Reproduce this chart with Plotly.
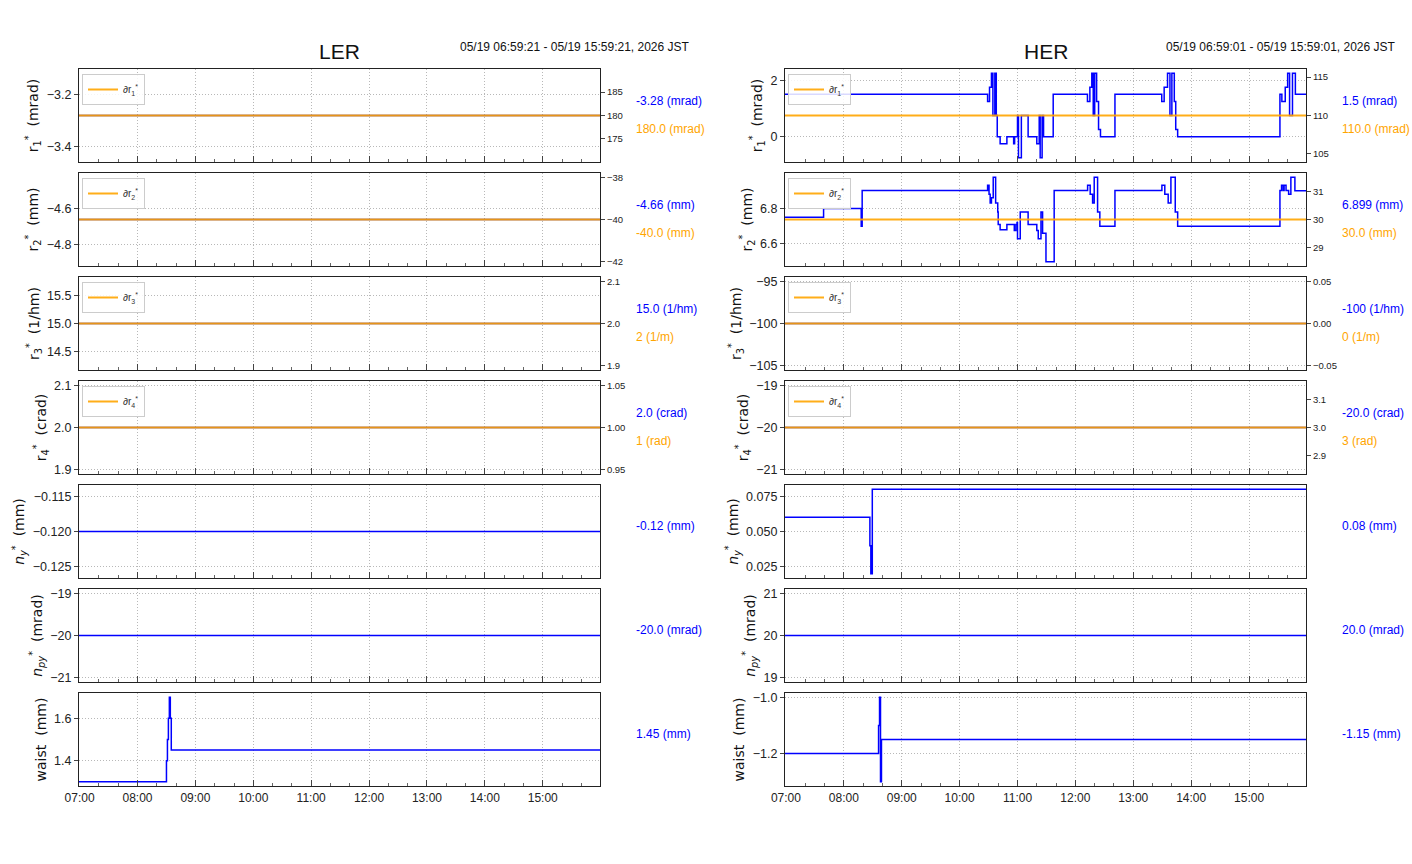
import plotly.graph_objects as go

W, H = 1412, 864
FONT_N = "Liberation Sans, Arial, sans-serif"
FONT_D = "DejaVu Sans, sans-serif"
BLUE = "#0000ff"
ORANGE = "#ffa500"
DAY = "2026-05-19 "

# ---------------- data ----------------
ler_start, ler_end = "06:59:21", "15:59:21"
her_start, her_end = "06:59:01", "15:59:01"

# LER: constant knob values (blue, left axis) and their deltas (orange, right axis)
ler_r = [-3.28, -4.66, 15.0, 2.0]
ler_dr = [180.0, -40.0, 2, 1]
ler_ny = -0.12
ler_npy = -20.0
ler_waist_t = ["06:59:21", "08:30", "08:31", "08:32", "08:33", "08:34", "08:35", "15:59:21"]
ler_waist_v = [1.30, 1.40, 1.50, 1.60, 1.70, 1.60, 1.45, 1.45]

# HER
her_r1_t = ["06:59:01", "10:29", "10:31", "10:33", "10:34:30", "10:36:30", "10:38", "10:39",
            "10:42", "10:49", "10:56", "10:57", "11:00", "11:01", "11:04", "11:11", "11:20",
            "11:22:30", "11:23:30", "11:25:30", "11:27", "11:37",
            "12:12:30", "12:15", "12:17", "12:18:30", "12:20", "12:22", "12:24", "12:26", "12:41",
            "13:29:30", "13:32", "13:35:30", "13:38", "13:40", "13:42:30", "13:44", "13:46",
            "15:32", "15:34", "15:37:30", "15:40", "15:42", "15:45", "15:48", "15:59:01"]
her_r1_v = [1.5, 1.25, 1.75, 2.25, 0.75, 2.25, 0.75, 0.0,
            -0.25, 0.0, -0.25, 0.0, 0.75, -0.75, 0.75, 0.0, -0.25,
            0.75, -0.75, 0.75, 0.0, 1.5,
            1.25, 1.75, 2.25, 0.75, 2.25, 1.25, 0.25, 0.0, 1.5,
            1.25, 1.75, 2.25, 0.75, 2.25, 1.25, 0.25, 0.0,
            1.5, 1.25, 1.75, 2.25, 0.75, 2.25, 1.5, 1.5]
her_dr1 = 110.0

her_r2_t = ["06:59:01", "07:39", "08:18", "08:19", "10:29", "10:30:30", "10:31:40", "10:33",
            "10:34:50", "10:37:20", "10:39:30", "10:40", "10:42", "10:49", "10:56:40", "10:58:20",
            "10:59:30", "11:00", "11:02:50", "11:11", "11:20", "11:21:30", "11:23:10", "11:24:20",
            "11:26", "11:29:30", "11:38",
            "12:12:40", "12:15:20", "12:17:50", "12:19:30", "12:23", "12:25:20", "12:41",
            "13:29:40", "13:32:40", "13:36:10", "13:39", "13:43:30", "13:46",
            "15:32", "15:33:40", "15:35:20", "15:36:20", "15:38:20", "15:41", "15:43:20",
            "15:47:30", "15:59:01"]
her_r2_v = [6.75, 6.80, 6.70, 6.90, 6.93, 6.88, 6.83, 6.86,
            6.975, 6.83, 6.78, 6.71, 6.68, 6.71, 6.675, 6.71,
            6.72, 6.63, 6.78, 6.71, 6.675, 6.63, 6.63, 6.78,
            6.66, 6.50, 6.90,
            6.93, 6.88, 6.83, 6.975, 6.78, 6.70, 6.90,
            6.93, 6.88, 6.83, 6.975, 6.78, 6.70,
            6.90, 6.93, 6.90, 6.93, 6.90, 6.88, 6.975,
            6.899, 6.899]
her_dr2 = 30.0

her_r3, her_dr3 = -100.0, 0
her_r4, her_dr4 = -20.0, 3
her_ny_t = ["06:59:01", "08:27", "08:28", "08:29:30", "15:59:01"]
her_ny_v = [0.0605, 0.040, 0.020, 0.0805, 0.0805]
her_npy = 20.0
her_waist_t = ["06:59:01", "08:36", "08:37", "08:38", "08:39", "15:59:01"]
her_waist_v = [-1.2, -1.1, -1.0, -1.3, -1.15, -1.15]

titles = ["LER", "HER"]
date_texts = ["05/19 06:59:21 - 05/19 15:59:21, 2026 JST",
              "05/19 06:59:01 - 05/19 15:59:01, 2026 JST"]
ytitles = ["r<sub>1</sub><sup>*</sup>  (mrad)", "r<sub>2</sub><sup>*</sup>  (mm)",
           "r<sub>3</sub><sup>*</sup>  (1/hm)", "r<sub>4</sub><sup>*</sup>  (crad)",
           "<i>n</i><sub><i>y</i></sub><sup>*</sup>  (mm)",
           "<i>n</i><sub><i>py</i></sub><sup>*</sup>  (mrad)", "waist  (mm)"]
legend_names = ["∂r<sub>1</sub><sup>*</sup>", "∂r<sub>2</sub><sup>*</sup>",
                "∂r<sub>3</sub><sup>*</sup>", "∂r<sub>4</sub><sup>*</sup>"]
ler_labels = ["-3.28 (mrad)", "-4.66 (mm)", "15.0 (1/hm)", "2.0 (crad)",
              "-0.12 (mm)", "-20.0 (mrad)", "1.45 (mm)"]
ler_dlabels = ["180.0 (mrad)", "-40.0 (mm)", "2 (1/m)", "1 (rad)"]
her_labels = ["1.5 (mrad)", "6.899 (mm)", "-100 (1/hm)", "-20.0 (crad)",
              "0.08 (mm)", "20.0 (mrad)", "-1.15 (mm)"]
her_dlabels = ["110.0 (mrad)", "30.0 (mm)", "0 (1/m)", "3 (rad)"]

# tick steps / formats (left, right)
ler_ticks = [(0.2, ".1f", 5, "d"), (0.2, ".1f", 2, "d"), (0.5, ".1f", 0.1, ".1f"),
             (0.1, ".1f", 0.05, ".2f"), (0.005, ".3f"), (1, "d"), (0.2, ".1f")]
her_ticks = [(2, "d", 5, "d"), (0.2, ".1f", 1, "d"), (5, "d", 0.05, ".2f"),
             (1, "d", 0.1, ".1f"), (0.025, ".3f"), (1, "d"), (0.2, ".1f")]


def ts(s):
    return DAY + (s if s.count(":") == 2 else s + ":00")


def auto_range(vals):
    lo, hi = min(vals), max(vals)
    if hi - lo < 1e-12:
        d = abs(lo) * 0.05 if lo != 0 else 0.05
        lo, hi = lo - d, hi + d
    r = hi - lo
    return [lo - 0.05 * r, hi + 0.05 * r]


def const(t0, t1, v):
    return [ts(t0), ts(t1)], [v, v]


def sfx(k):
    return "" if k == 1 else str(k)


columns = []
for col in range(2):
    if col == 0:
        s, e = ler_start, ler_end
        series = [const(s, e, v) for v in ler_r] + [const(s, e, ler_ny), const(s, e, ler_npy),
                                                     ([ts(t) for t in ler_waist_t], ler_waist_v)]
        deltas = [const(s, e, v) for v in ler_dr]
        labels, dlabels, ticks = ler_labels, ler_dlabels, ler_ticks
    else:
        s, e = her_start, her_end
        series = [([ts(t) for t in her_r1_t], her_r1_v), ([ts(t) for t in her_r2_t], her_r2_v),
                  const(s, e, her_r3), const(s, e, her_r4),
                  ([ts(t) for t in her_ny_t], her_ny_v), const(s, e, her_npy),
                  ([ts(t) for t in her_waist_t], her_waist_v)]
        deltas = [const(s, e, v) for v in [her_dr1, her_dr2, her_dr3, her_dr4]]
        labels, dlabels, ticks = her_labels, her_dlabels, her_ticks
    columns.append(dict(start=ts(s), end=ts(e), series=series, deltas=deltas,
                        labels=labels, dlabels=dlabels, ticks=ticks))

# ---------------- layout geometry (pixels) ----------------
col_left = [79, 785]
ax_w = 521
row_top0, row_h, row_step = 69, 93, 104
GRID = dict(showgrid=True, gridcolor="#b8b8b8", griddash="1px,2px", gridwidth=1)
LBL_X = 1.066
LBL_SIZE = 12

fig = go.Figure()
layout = dict(width=W, height=H, margin=dict(l=0, r=0, t=0, b=0),
              paper_bgcolor="white", plot_bgcolor="white", template="none",
              showlegend=True, annotations=[],
              font=dict(family=FONT_N, size=12, color="#222222"))

tick_font = dict(family=FONT_N, size=12.5, color="#222222")
xtick_font = dict(family=FONT_N, size=12, color="#222222")
small_font = dict(family=FONT_N, size=9.5, color="#222222")
legend_idx = 0

for col, cd in enumerate(columns):
    xl = col_left[col] / W
    xr = (col_left[col] + ax_w) / W
    for row in range(7):
        k = col * 7 + row + 1
        xn, yn = "x" + sfx(k), "y" + sfx(k)
        top = row_top0 + row * row_step
        yt = 1 - top / H
        yb = 1 - (top + row_h) / H
        xs, ys = cd["series"][row]
        tk = cd["ticks"][row]

        layout["xaxis" + sfx(k)] = dict(
            domain=[xl, xr], anchor=yn, type="date", range=[cd["start"], cd["end"]],
            tick0=DAY + "07:00:00", dtick=3600000, tickformat="%H:%M",
            ticks="inside", ticklen=6, tickwidth=1, tickcolor="#444444",
            minor=dict(dtick=1200000, ticks="inside", ticklen=3, tickcolor="#666666", showgrid=False),
            showline=True, linecolor="#222222", linewidth=1.2, mirror=True,
            showticklabels=(row == 6), tickfont=xtick_font, automargin=False, zeroline=False,
            **GRID)
        layout["yaxis" + sfx(k)] = dict(
            domain=[yb, yt], anchor=xn, range=auto_range(ys),
            dtick=tk[0], tick0=0, tickformat=tk[1],
            ticks="outside", ticklen=4, tickcolor="#444444",
            showline=True, linecolor="#222222", linewidth=1.2, mirror=True,
            tickfont=tick_font, zeroline=False, automargin=False,
            title=dict(text=ytitles[row], font=dict(family=FONT_D, size=14, color="#111111"),
                       standoff=4),
            **GRID)

        fig.add_trace(go.Scatter(x=xs, y=ys, xaxis=xn, yaxis=yn, mode="lines",
                                 line=dict(color=BLUE, width=1.5, shape="hv"),
                                 showlegend=False, hoverinfo="skip"))

        if row < 4:
            k2 = 14 + col * 4 + row + 1
            yn2 = "y" + sfx(k2)
            dx, dy = cd["deltas"][row]
            layout["yaxis" + sfx(k2)] = dict(
                overlaying=yn, side="right", anchor=xn, range=auto_range(dy),
                dtick=tk[2], tick0=0, tickformat=tk[3], ticks="outside", ticklen=4,
                tickcolor="#444444", showgrid=False, showline=False, zeroline=False,
                tickfont=small_font, automargin=False)
            legend_idx += 1
            lname = "legend" if legend_idx == 1 else f"legend{legend_idx}"
            layout[lname] = dict(x=(col_left[col] + 3) / W, y=1 - (top + 5) / H,
                                 xanchor="left", yanchor="top",
                                 bgcolor="rgba(255,255,255,0.85)", bordercolor="#cccccc",
                                 borderwidth=1, font=dict(family=FONT_N, size=10, color="#333333"),
                                 itemwidth=30, tracegroupgap=0)
            fig.add_trace(go.Scatter(x=dx, y=dy, xaxis=xn, yaxis=yn2, mode="lines",
                                     line=dict(color=ORANGE, width=2, shape="hv"), opacity=0.9,
                                     name=legend_names[row], legend=lname, showlegend=True,
                                     hoverinfo="skip"))
            layout["annotations"].append(dict(
                xref=xn + " domain", yref=yn + " domain", x=LBL_X, y=0.656,
                text=cd["labels"][row], showarrow=False, xanchor="left", yanchor="middle",
                font=dict(family=FONT_N, size=LBL_SIZE, color=BLUE)))
            layout["annotations"].append(dict(
                xref=xn + " domain", yref=yn + " domain", x=LBL_X, y=0.355,
                text=cd["dlabels"][row], showarrow=False, xanchor="left", yanchor="middle",
                font=dict(family=FONT_N, size=LBL_SIZE, color=ORANGE)))
        else:
            layout["annotations"].append(dict(
                xref=xn + " domain", yref=yn + " domain", x=LBL_X, y=0.559,
                text=cd["labels"][row], showarrow=False, xanchor="left", yanchor="middle",
                font=dict(family=FONT_N, size=LBL_SIZE, color=BLUE)))

    # column title and date text
    layout["annotations"].append(dict(
        xref="paper", yref="paper", x=(col_left[col] + ax_w / 2) / W, y=1 - 51 / H,
        text=titles[col], showarrow=False, xanchor="center", yanchor="middle",
        font=dict(family=FONT_N, size=21, color="#111111")))
    layout["annotations"].append(dict(
        xref="paper", yref="paper", x=(col_left[col] + 613) / W, y=1 - 47 / H,
        text=date_texts[col], showarrow=False, xanchor="right", yanchor="middle",
        font=dict(family=FONT_N, size=12, color="#111111")))

fig.update_layout(**layout)
fig.write_html("out.html")
